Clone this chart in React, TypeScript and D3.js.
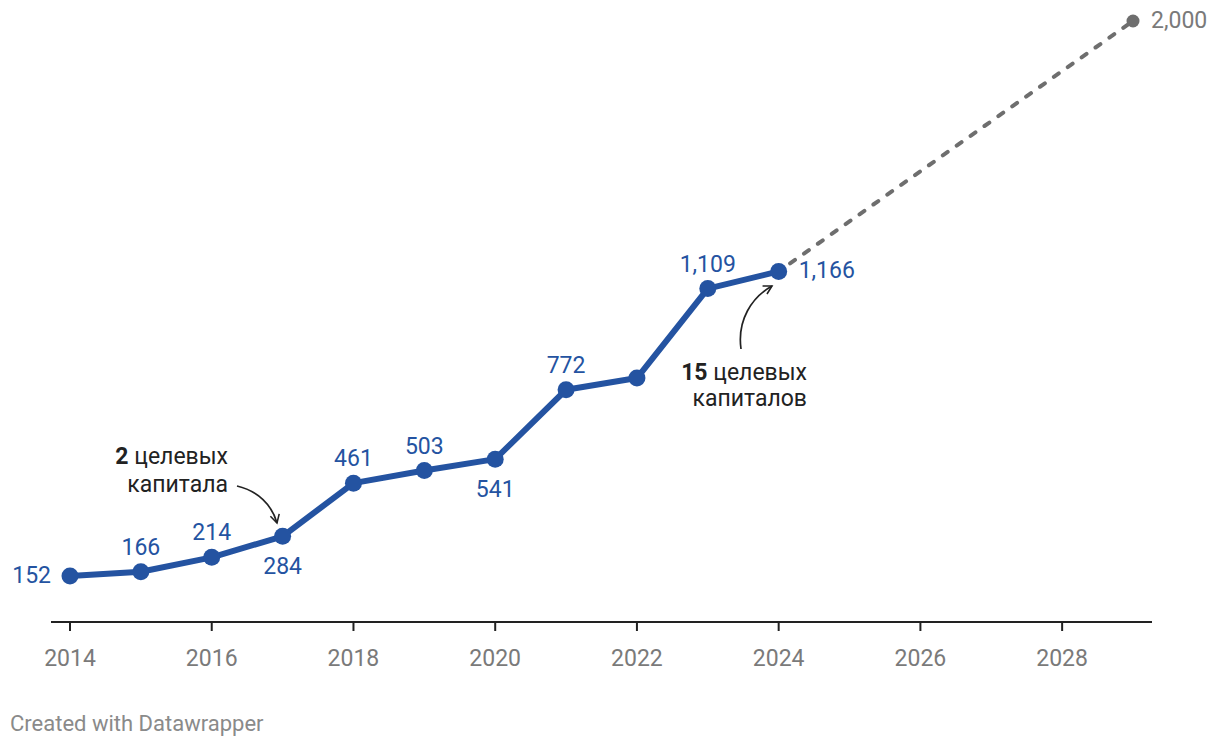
import React from "react";
import * as d3 from "d3";

const years = [2014, 2015, 2016, 2017, 2018, 2019, 2020, 2021, 2022, 2023, 2024];
const values = [152, 166, 214, 284, 461, 503, 541, 772, 811, 1109, 1166];
const forecastYears = [2024, 2029];
const forecastValues = [1166, 2000];
const tickYears = [2014, 2016, 2018, 2020, 2022, 2024, 2026, 2028];
// label placement per point: "l" left, "a" above, "b" below, "r" right, "" none
const labelPos = ["l", "a", "a", "b", "a", "a", "b", "a", "", "a", "r"];

const W = 1220;
const H = 748;
const BLUE = "#2453a1";
const GREY = "#6e6e6e";
const FONT = "Roboto, 'Noto Sans', sans-serif";
const FS = 23;

export default function App() {
  const x = d3.scaleLinear().domain([2014, 2029]).range([70, 1133]);
  const y = d3.scaleLinear().domain([0, 2000]).range([621.6, 21]);
  const fmt = d3.format(",");

  const line = d3
    .line<number>()
    .x((_, i) => x(years[i]))
    .y((d) => y(d));
  const fline = d3
    .line<number>()
    .x((_, i) => x(forecastYears[i]))
    .y((d) => y(d));

  const arrow1 = "M237,486 C258,491 272,505 277,523";
  const arrow2 = "M741,349 C737,320 752,297 772,286";

  return (
    <svg width={W} height={H} style={{ position: "absolute", left: 0, top: 0, fontFamily: FONT }}>
      <defs>
        <marker id="ah" viewBox="0 0 12 12" refX="10" refY="6" markerWidth="11" markerHeight="11" orient="auto" markerUnits="userSpaceOnUse">
          <path d="M1,1 L10,6 L1,11" fill="none" stroke="#222" strokeWidth="1.7" />
        </marker>
      </defs>
      {/* axis */}
      <line x1={51} x2={1152} y1={622} y2={622} stroke="#222" strokeWidth={2} />
      {tickYears.map((t) => (
        <g key={t}>
          <line x1={x(t)} x2={x(t)} y1={622} y2={631} stroke="#222" strokeWidth={2} />
          <text x={x(t)} y={666} textAnchor="middle" fontSize={FS} fill="#7a7a7a">
            {t}
          </text>
        </g>
      ))}
      {/* forecast */}
      <path d={fline(forecastValues) || ""} fill="none" stroke={GREY} strokeWidth={4} strokeLinecap="round" strokeDasharray="6,11" strokeDashoffset={-14} />
      <circle cx={x(2029)} cy={y(2000)} r={6.5} fill={GREY} />
      <text x={x(2029) + 18} y={y(2000) + 7} fontSize={FS} fill="#7a7a7a">
        {fmt(2000)}
      </text>
      {/* main line */}
      <path d={line(values) || ""} fill="none" stroke={BLUE} strokeWidth={6} strokeLinejoin="round" />
      {values.map((v, i) => (
        <circle key={i} cx={x(years[i])} cy={y(v)} r={8.5} fill={BLUE} />
      ))}
      {values.map((v, i) => {
        const p = labelPos[i];
        if (!p) return null;
        const cx = x(years[i]);
        const cy = y(v);
        let tx = cx, ty = cy, anchor: "start" | "middle" | "end" = "middle";
        if (p === "a") ty = cy - 17;
        if (p === "b") ty = cy + 38;
        if (p === "l") { tx = cx - 19; ty = cy + 7; anchor = "end"; }
        if (p === "r") { tx = cx + 20; ty = cy + 7; anchor = "start"; }
        return (
          <text key={"l" + i} x={tx} y={ty} textAnchor={anchor} fontSize={FS} fill={BLUE}>
            {fmt(v)}
          </text>
        );
      })}
      {/* annotations */}
      <text x={228} y={464} textAnchor="end" fontSize={FS} fill="#222">
        <tspan fontWeight="bold">2</tspan> целевых
      </text>
      <text x={228} y={492} textAnchor="end" fontSize={FS} fill="#222">
        капитала
      </text>
      <path d={arrow1} fill="none" stroke="#222" strokeWidth={1.7} markerEnd="url(#ah)" />
      <text x={807} y={380} textAnchor="end" fontSize={FS} fill="#222">
        <tspan fontWeight="bold">15</tspan> целевых
      </text>
      <text x={807} y={406} textAnchor="end" fontSize={FS} fill="#222">
        капиталов
      </text>
      <path d={arrow2} fill="none" stroke="#222" strokeWidth={1.7} markerEnd="url(#ah)" />
      <text x={10} y={731} fontSize={22} fill="#8a8a8a">
        Created with Datawrapper
      </text>
    </svg>
  );
}
